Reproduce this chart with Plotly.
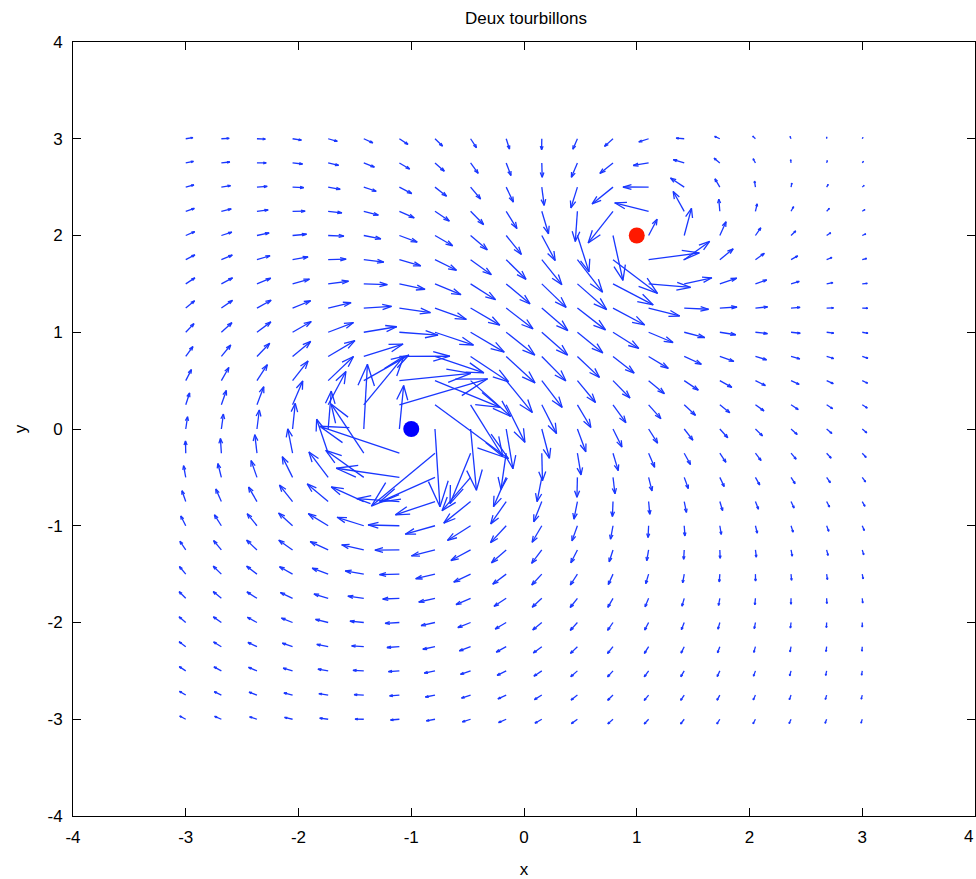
import numpy as np
import plotly.graph_objects as go

# ---- data ----
grid_x = np.linspace(-3, 3, 20)          # arrow tail columns
grid_y = np.linspace(-3, 3, 25)          # arrow tail rows
vortex_x = [-1.0, 1.0]                   # vortex centres
vortex_y = [0.0, 2.0]
vortex_strength = [-0.317, 0.16]         # signed (negative = clockwise), display-scaled
vortex_core = [0.25, 0.25]               # core radius
vortex_colors = ["rgb(0,0,255)", "rgb(255,25,0)"]
axis_ticks = [-4, -3, -2, -1, 0, 1, 2, 3, 4]
axis_tick_text = ["-4", "-3", "-2", "-1", "0", "1", "2", "3", "4"]
title_text = "Deux tourbillons"

# ---- velocity field ----
X, Y = np.meshgrid(grid_x, grid_y)
U = np.zeros_like(X)
V = np.zeros_like(Y)
for xc, yc, g, a in zip(vortex_x, vortex_y, vortex_strength, vortex_core):
    dx = X - xc
    dy = Y - yc
    r2 = dx**2 + dy**2
    fac = g * (1 - np.exp(-r2 / a**2)) / r2
    U += -dy * fac
    V += dx * fac

# MATLAB-style quiver segments
alpha, beta = 0.33, 0.33
xs, ys = [], []
for x, y, u, v in zip(X.ravel(), Y.ravel(), U.ravel(), V.ravel()):
    xs += [x, x + u, None]
    ys += [y, y + v, None]
    xs += [x + u - alpha * (u + beta * v), x + u, x + u - alpha * (u - beta * v), None]
    ys += [y + v - alpha * (v - beta * u), y + v, y + v - alpha * (v + beta * u), None]

fig = go.Figure()
fig.add_trace(go.Scatter(x=xs, y=ys, mode="lines",
                         line=dict(color="rgb(25,55,255)", width=1.3),
                         hoverinfo="skip", showlegend=False))
for xc, yc, c in zip(vortex_x, vortex_y, vortex_colors):
    fig.add_trace(go.Scatter(x=[xc], y=[yc], mode="markers",
                             marker=dict(color=c, size=16, line=dict(width=0)),
                             showlegend=False))

font = dict(family="Liberation Sans, Arial, sans-serif", size=17, color="black")
axis_common = dict(range=[-4, 4], tickmode="array", tickvals=axis_ticks,
                   ticktext=axis_tick_text,
                   ticks="inside", ticklen=8, tickcolor="black", tickwidth=1,
                   showline=True, linecolor="black", linewidth=1, mirror="ticks",
                   showgrid=False, zeroline=False, tickfont=font,
                   ticklabelstandoff=6)

fig.update_layout(
    width=976, height=879,
    margin=dict(l=73, r=1, t=42, b=63),
    paper_bgcolor="white", plot_bgcolor="white",
    title=dict(text=title_text, x=526 / 976, xanchor="center",
               y=1 - 18 / 879, yanchor="middle", yref="container",
               font=dict(family="Liberation Sans, Arial, sans-serif", size=17, color="black")),
    xaxis=dict(**axis_common, title=dict(text="x", font=font, standoff=18)),
    yaxis=dict(**axis_common, title=dict(text="y", font=font, standoff=16)),
    annotations=[dict(text=axis_tick_text[-1], x=1, xref="paper", y=-4, yref="y", yshift=-20,
                      xanchor="right", yanchor="middle", showarrow=False, font=font)],
)

fig.write_html("out.html")
